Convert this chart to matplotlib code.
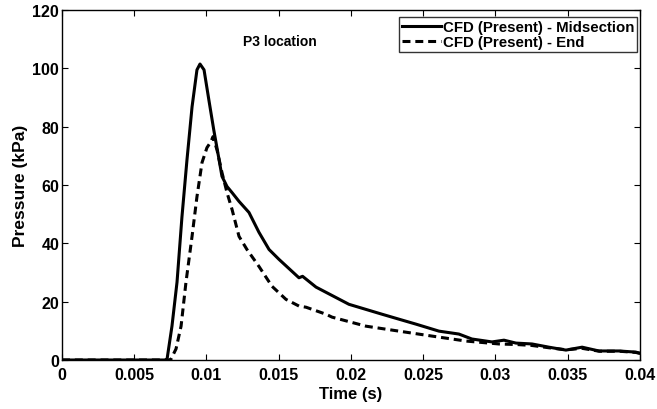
import matplotlib
matplotlib.use('Agg')
from matplotlib import pyplot as plt

# Solid curve: CFD (Present) - Midsection
t_mid = [0.0, 0.0072, 0.00727, 0.00761, 0.00796, 0.0083, 0.00865, 0.009,
         0.00934, 0.00955, 0.00983, 0.01017, 0.0105, 0.01087, 0.01107,
         0.01142, 0.01177, 0.01225, 0.01294, 0.01363, 0.01433, 0.01502,
         0.0164, 0.01665, 0.01758, 0.01986, 0.02215, 0.02332, 0.0245,
         0.02609, 0.02747, 0.02837, 0.02976, 0.03059, 0.03142, 0.03253,
         0.0337, 0.03488, 0.036, 0.03716, 0.03855, 0.03972, 0.04]
p_mid = [0.0, 0.0, 0.3, 11.6, 26.7, 49.0, 68.7, 86.8,
         99.5, 101.5, 99.5, 89.0, 79.0, 68.7, 63.0,
         59.5, 57.4, 54.4, 50.6, 43.8, 37.9, 34.5,
         28.2, 28.7, 25.0, 19.1, 15.7, 14.0, 12.3,
         9.9, 8.9, 7.2, 6.2, 6.8, 5.8, 5.5,
         4.4, 3.4, 4.4, 3.1, 3.1, 2.7, 2.3]

# Dashed curve: CFD (Present) - End
t_end = [0.0, 0.0075, 0.00754, 0.00789, 0.00824, 0.00858, 0.009, 0.00934,
         0.00969, 0.01003, 0.01031, 0.01045, 0.01073, 0.01107, 0.01142,
         0.01177, 0.01225, 0.0128, 0.01363, 0.01453, 0.0155, 0.0164,
         0.01689, 0.01827, 0.01869, 0.02104, 0.02332, 0.02561, 0.02796,
         0.03024, 0.0315, 0.0325, 0.0337, 0.0349, 0.036, 0.0372, 0.0386,
         0.0397, 0.04]
p_end = [0.0, 0.0, 0.3, 3.8, 11.6, 26.7, 42.4, 56.0,
         67.7, 72.8, 74.9, 76.6, 72.0, 64.3, 57.4,
         51.6, 42.4, 37.9, 32.1, 25.3, 20.8, 18.5,
         18.1, 15.7, 14.7, 11.6, 9.9, 8.2, 6.5,
         5.5, 5.3, 5.0, 4.2, 3.5, 4.0, 3.0, 3.0,
         2.6, 2.3]

x_ticks = [0, 0.005, 0.01, 0.015, 0.02, 0.025, 0.03, 0.035, 0.04]
x_labels = ['0', '0.005', '0.01', '0.015', '0.02', '0.025', '0.03', '0.035', '0.04']
y_ticks = [0, 20, 40, 60, 80, 100, 120]

plt.rcParams['font.family'] = ['Liberation Sans', 'DejaVu Sans']
plt.rcParams['font.weight'] = 'bold'

fig = plt.figure(figsize=(6.57, 4.10), dpi=100)
ax = fig.add_axes([0.0944, 0.1195, 0.8796, 0.8535])

ax.plot(t_mid, p_mid, 'k-', lw=2.2, label='CFD (Present) - Midsection')
ax.plot(t_end, p_end, color='k', lw=2.2, linestyle=(0, (2.6, 1.6)),
        label='CFD (Present) - End')

ax.set_xlim(0, 0.04)
ax.set_ylim(0, 120)
ax.set_xticks(x_ticks)
ax.set_xticklabels(x_labels)
ax.set_yticks(y_ticks)
ax.tick_params(direction='in', top=True, right=True, length=4, width=0.8,
               labelsize=11.5)
ax.tick_params(axis='x', pad=5)
ax.tick_params(axis='y', pad=2)
for s in ax.spines.values():
    s.set_linewidth(1.0)

ax.set_xlabel('Time (s)', fontsize=12, fontweight='bold', labelpad=3)
ax.set_ylabel('Pressure (kPa)', fontsize=12.5, fontweight='bold', labelpad=3)

ax.text(0.01253, 109.4, 'P3 location', fontsize=10, fontweight='bold',
        va='center', ha='left')

leg = ax.legend(loc='upper right', bbox_to_anchor=(0.995, 0.98),
                borderaxespad=0, fontsize=10.8, frameon=True, fancybox=False,
                edgecolor='k', handlelength=2.6, handletextpad=0.1,
                borderpad=0.2, labelspacing=0.05)
leg.get_frame().set_linewidth(1.0)

fig.savefig('out.png', dpi=100)
